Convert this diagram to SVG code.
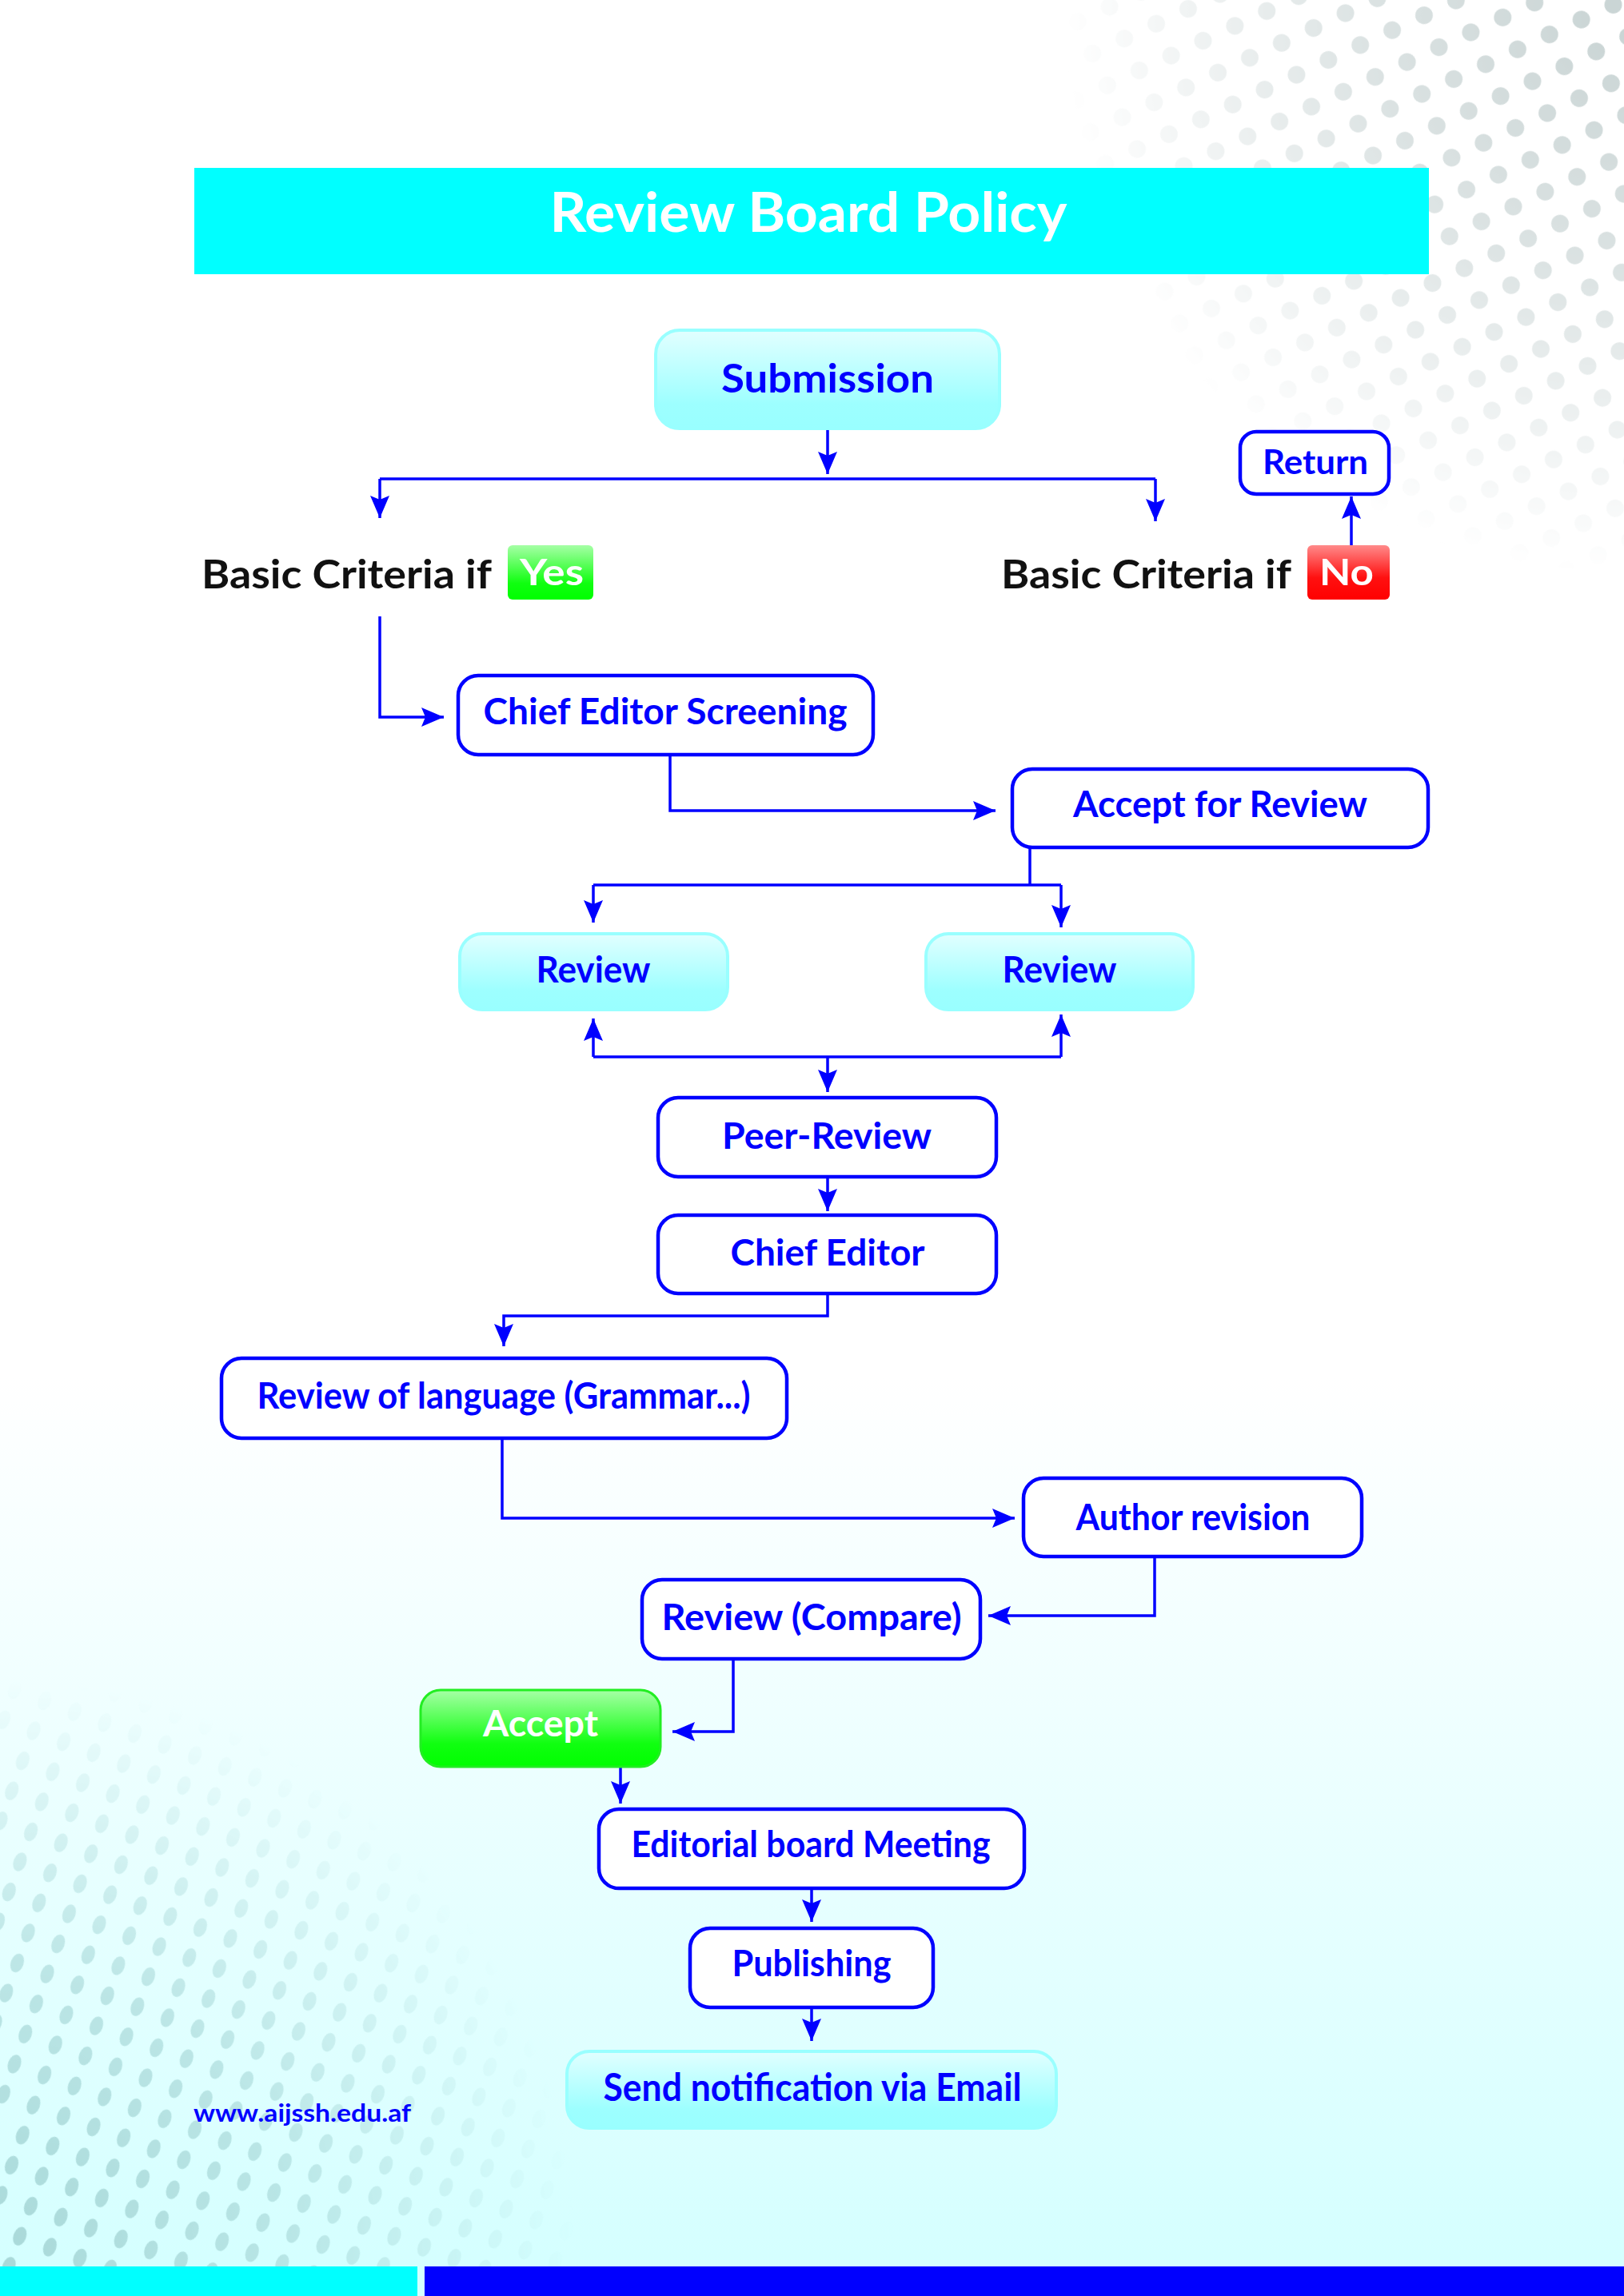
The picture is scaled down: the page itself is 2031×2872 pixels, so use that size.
<svg xmlns="http://www.w3.org/2000/svg" width="2031" height="2872" viewBox="0 0 2031 2872">
<defs>
<style>
.t{font-family:Lato,"Liberation Sans",sans-serif;font-weight:700;fill:#0000ff;text-anchor:middle}
.w{fill:#ffffff}
.k{fill:#111111;text-anchor:start}
.bn{fill:#ffffff;stroke:#0000ff;stroke-width:4.5}
.cy{fill:url(#gCyan);stroke:#99ffff;stroke-width:4}
.cn path{fill:none;stroke:#0000ff;stroke-width:3.5}
.ar{marker-end:url(#arr)}
</style>
<linearGradient id="gBg" x1="0" y1="0" x2="0" y2="1">
<stop offset="0" stop-color="#ffffff"/>
<stop offset="0.6" stop-color="#ffffff"/>
<stop offset="1" stop-color="#d3ffff"/>
</linearGradient>
<linearGradient id="gCyan" x1="0" y1="0" x2="0" y2="1">
<stop offset="0" stop-color="#e2ffff"/>
<stop offset="0.75" stop-color="#9dffff"/>
<stop offset="1" stop-color="#99ffff"/>
</linearGradient>
<linearGradient id="gGreen" x1="0" y1="0" x2="0" y2="1">
<stop offset="0" stop-color="#a6ffa6"/>
<stop offset="0.7" stop-color="#10ff10"/>
<stop offset="1" stop-color="#00ff00"/>
</linearGradient>
<linearGradient id="gRed" x1="0" y1="0" x2="0" y2="1">
<stop offset="0" stop-color="#ff8a8a"/>
<stop offset="0.6" stop-color="#ff1010"/>
<stop offset="1" stop-color="#ff0000"/>
</linearGradient>
<pattern id="pDotA" width="44" height="44" patternUnits="userSpaceOnUse" patternTransform="rotate(-25)">
<circle cx="22" cy="22" r="11" fill="#c9d4d4"/>
</pattern>
<pattern id="pDotB" width="40" height="40" patternUnits="userSpaceOnUse" patternTransform="rotate(20)">
<ellipse cx="20" cy="20" rx="8" ry="12" fill="#a9d9d9"/>
</pattern>
<radialGradient id="gMaskA" cx="2031" cy="20" r="700" gradientUnits="userSpaceOnUse">
<stop offset="0" stop-color="#ffffff"/>
<stop offset="0.45" stop-color="#aaaaaa"/>
<stop offset="1" stop-color="#000000"/>
</radialGradient>
<radialGradient id="gMaskB" cx="0" cy="2820" r="720" gradientUnits="userSpaceOnUse">
<stop offset="0" stop-color="#ffffff"/>
<stop offset="0.5" stop-color="#aaaaaa"/>
<stop offset="1" stop-color="#000000"/>
</radialGradient>
<mask id="mA"><rect x="0" y="0" width="2031" height="2872" fill="url(#gMaskA)"/></mask>
<mask id="mB"><rect x="0" y="0" width="2031" height="2872" fill="url(#gMaskB)"/></mask>
<marker id="arr" markerUnits="userSpaceOnUse" markerWidth="30" markerHeight="24" refX="28" refY="12" orient="auto">
<path d="M0,0 L28,12 L0,24 L5,12 Z" fill="#0000ff"/>
</marker>
</defs>

<g id="background">
<rect x="0" y="0" width="2031" height="2872" fill="url(#gBg)"/>
<rect x="1250" y="0" width="781" height="800" fill="url(#pDotA)" mask="url(#mA)"/>
<rect x="0" y="2100" width="800" height="735" fill="url(#pDotB)" mask="url(#mB)"/>
<rect x="0" y="2835" width="522" height="37" fill="#00ffff"/>
<rect x="531" y="2835" width="1500" height="37" fill="#0000ff"/>
</g>

<g id="title">
<rect x="243" y="210" width="1544" height="133" fill="#00ffff"/>
<text class="t w" x="1011" y="290" font-size="68" textLength="647" lengthAdjust="spacingAndGlyphs">Review Board Policy</text>
</g>

<g id="connectors" class="cn">
<path class="ar" d="M1035,536 V593"/>
<path d="M475,599 H1445"/>
<path class="ar" d="M475,599 V648"/>
<path class="ar" d="M1445,599 V652"/>
<path class="ar" d="M1690,682 V621"/>
<path class="ar" d="M475,771 V897 H555"/>
<path class="ar" d="M838,944 V1014 H1245"/>
<path d="M1288,1060 V1107"/>
<path d="M742,1107 H1327"/>
<path class="ar" d="M742,1107 V1154"/>
<path class="ar" d="M1327,1107 V1160"/>
<path d="M742,1322 H1327"/>
<path class="ar" d="M742,1322 V1274"/>
<path class="ar" d="M1327,1322 V1269"/>
<path class="ar" d="M1035,1322 V1366"/>
<path class="ar" d="M1035,1472 V1515"/>
<path class="ar" d="M1035,1618 V1646 H630 V1684"/>
<path class="ar" d="M628,1799 V1899 H1269"/>
<path class="ar" d="M1444,1947 V2021 H1236"/>
<path class="ar" d="M917,2075 V2166 H841"/>
<path class="ar" d="M776,2210 V2256"/>
<path class="ar" d="M1015,2362 V2404"/>
<path class="ar" d="M1015,2511 V2553"/>
</g>

<g id="submission">
<rect class="cy" x="820" y="413" width="430" height="123" rx="30"/>
<text class="t" x="1035" y="491" font-size="50" textLength="266" lengthAdjust="spacingAndGlyphs">Submission</text>
</g>

<g id="criteria-yes">
<text class="t k" x="252" y="736" font-size="50" textLength="363" lengthAdjust="spacingAndGlyphs">Basic Criteria if</text>
<rect x="635" y="682" width="107" height="68" rx="6" fill="url(#gGreen)"/>
<text class="t w" x="690" y="732" font-size="46" textLength="80" lengthAdjust="spacingAndGlyphs">Yes</text>
</g>

<g id="criteria-no">
<text class="t k" x="1252" y="736" font-size="50" textLength="363" lengthAdjust="spacingAndGlyphs">Basic Criteria if</text>
<rect x="1635" y="682" width="103" height="68" rx="6" fill="url(#gRed)"/>
<text class="t w" x="1684" y="732" font-size="46" textLength="68" lengthAdjust="spacingAndGlyphs">No</text>
</g>

<g id="return">
<rect class="bn" x="1551" y="540" width="186" height="78" rx="20"/>
<text class="t" x="1645" y="593" font-size="42" textLength="132" lengthAdjust="spacingAndGlyphs">Return</text>
</g>

<g id="chief-editor-screening">
<rect class="bn" x="573" y="845" width="519" height="99" rx="25"/>
<text class="t" x="832" y="906" font-size="46" textLength="455" lengthAdjust="spacingAndGlyphs">Chief Editor Screening</text>
</g>

<g id="accept-for-review">
<rect class="bn" x="1266" y="962" width="520" height="98" rx="25"/>
<text class="t" x="1526" y="1022" font-size="46" textLength="368" lengthAdjust="spacingAndGlyphs">Accept for Review</text>
</g>

<g id="review-1">
<rect class="cy" x="575" y="1168" width="335" height="95" rx="28"/>
<text class="t" x="742" y="1229" font-size="46" textLength="143" lengthAdjust="spacingAndGlyphs">Review</text>
</g>

<g id="review-2">
<rect class="cy" x="1158" y="1168" width="334" height="95" rx="28"/>
<text class="t" x="1325" y="1229" font-size="46" textLength="143" lengthAdjust="spacingAndGlyphs">Review</text>
</g>

<g id="peer-review">
<rect class="bn" x="823" y="1373" width="423" height="99" rx="25"/>
<text class="t" x="1034" y="1437" font-size="46" textLength="262" lengthAdjust="spacingAndGlyphs">Peer-Review</text>
</g>

<g id="chief-editor">
<rect class="bn" x="823" y="1520" width="423" height="98" rx="25"/>
<text class="t" x="1035" y="1583" font-size="46" textLength="243" lengthAdjust="spacingAndGlyphs">Chief Editor</text>
</g>

<g id="review-language">
<rect class="bn" x="277" y="1699" width="707" height="100" rx="25"/>
<text class="t" x="630" y="1762" font-size="45" textLength="617" lengthAdjust="spacingAndGlyphs">Review of language (Grammar...)</text>
</g>

<g id="author-revision">
<rect class="bn" x="1280" y="1849" width="423" height="98" rx="25"/>
<text class="t" x="1492" y="1914" font-size="46" textLength="293" lengthAdjust="spacingAndGlyphs">Author revision</text>
</g>

<g id="review-compare">
<rect class="bn" x="803" y="1976" width="423" height="99" rx="25"/>
<text class="t" x="1015" y="2039" font-size="46" textLength="375" lengthAdjust="spacingAndGlyphs">Review (Compare)</text>
</g>

<g id="accept">
<rect x="526" y="2114" width="300" height="96" rx="25" fill="url(#gGreen)" stroke="#22ee22" stroke-width="3"/>
<text class="t w" x="676" y="2172" font-size="46" textLength="144" lengthAdjust="spacingAndGlyphs">Accept</text>
</g>

<g id="editorial-board-meeting">
<rect class="bn" x="749" y="2263" width="532" height="99" rx="25"/>
<text class="t" x="1014" y="2323" font-size="46" textLength="449" lengthAdjust="spacingAndGlyphs">Editorial board Meeting</text>
</g>

<g id="publishing">
<rect class="bn" x="863" y="2412" width="304" height="99" rx="25"/>
<text class="t" x="1015" y="2472" font-size="46" textLength="199" lengthAdjust="spacingAndGlyphs">Publishing</text>
</g>

<g id="send-notification">
<rect class="cy" x="709" y="2566" width="612" height="96" rx="28"/>
<text class="t" x="1016" y="2628" font-size="47" textLength="523" lengthAdjust="spacingAndGlyphs">Send notification via Email</text>
</g>

<g id="website">
<text class="t" x="242" y="2654" font-size="31" style="text-anchor:start" textLength="272" lengthAdjust="spacingAndGlyphs">www.aijssh.edu.af</text>
</g>
</svg>
